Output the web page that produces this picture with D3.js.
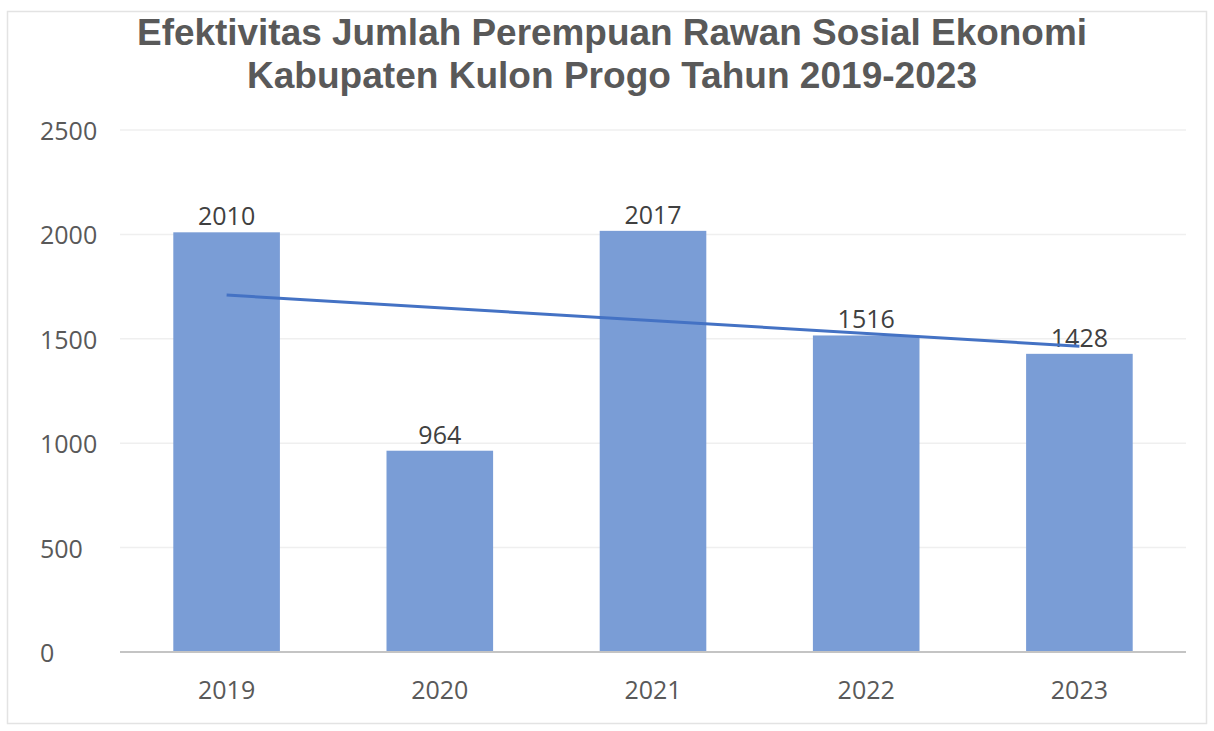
<!DOCTYPE html>
<html>
<head>
<meta charset="utf-8">
<script src="https://cdn.jsdelivr.net/npm/d3@7"></script>
<style>
  html, body { margin: 0; padding: 0; background: #fff; }
  svg { display: block; }
</style>
</head>
<body>
<svg id="chart" width="1214" height="731"></svg>
<script>
const categories = ["2019", "2020", "2021", "2022", "2023"];
const values = [2010, 964, 2017, 1516, 1428];
const yTicks = [0, 500, 1000, 1500, 2000, 2500];
const titleLines = ["Efektivitas Jumlah Perempuan Rawan Sosial Ekonomi", "Kabupaten Kulon Progo Tahun 2019-2023"];

const svg = d3.select("#chart");
const margin = { left: 120, right: 1186, top: 130, bottom: 652 };
const FONT = "'Open Sans', 'Noto Sans', sans-serif";
const FS = 25;

// frame
svg.append("rect").attr("x", 7.5).attr("y", 11.5).attr("width", 1199).attr("height", 712)
  .attr("fill", "#fff").attr("stroke", "#e3e3e3").attr("stroke-width", 1.5);

const x = d3.scaleBand().domain(categories).range([margin.left, margin.right]).paddingInner(0.5).paddingOuter(0.25);
const y = d3.scaleLinear().domain([0, 2500]).range([margin.bottom, margin.top]);

// gridlines
svg.append("g").selectAll("line").data(yTicks.filter(d => d > 0)).join("line")
  .attr("x1", margin.left).attr("x2", margin.right)
  .attr("y1", d => y(d)).attr("y2", d => y(d))
  .attr("stroke", "#efefef").attr("stroke-width", 1.5);

// y tick labels (left-aligned, no axis line)
const yAxis = d3.axisLeft(y).tickValues(yTicks).tickSize(0).tickFormat(d3.format("d"));
const gy = svg.append("g").attr("transform", `translate(40,0)`).call(yAxis);
gy.select(".domain").remove();
gy.selectAll("text").attr("text-anchor", "start").attr("x", 0).attr("dy", "0.38em")
  .attr("font-family", FONT).attr("font-size", FS).attr("fill", "#595959");

// bars
svg.append("g").selectAll("rect").data(values).join("rect")
  .attr("x", (d, i) => x(categories[i]))
  .attr("width", x.bandwidth())
  .attr("y", d => y(d))
  .attr("height", d => y(0) - y(d))
  .attr("fill", "#7a9dd6");

// x axis
const xAxis = d3.axisBottom(x).tickSize(0).tickPadding(0);
const gx = svg.append("g").attr("transform", `translate(0,${margin.bottom})`).call(xAxis);
gx.select(".domain").attr("stroke", "#c4c4c4").attr("stroke-width", 2)
  .attr("d", `M${margin.left},0H${margin.right}`);
gx.selectAll("text").attr("y", 47).attr("dy", 0)
  .attr("font-family", FONT).attr("font-size", FS).attr("fill", "#595959");

// data labels
svg.append("g").selectAll("text").data(values).join("text")
  .attr("x", (d, i) => x(categories[i]) + x.bandwidth() / 2)
  .attr("y", d => y(d) - 7)
  .attr("text-anchor", "middle")
  .attr("font-family", FONT).attr("font-size", FS).attr("fill", "#404040")
  .text(d => d);

// linear trendline (least squares over category index)
const n = values.length;
const xs = values.map((d, i) => i + 1);
const mx = d3.mean(xs), my = d3.mean(values);
const slope = d3.sum(xs.map((xi, i) => (xi - mx) * (values[i] - my))) / d3.sum(xs.map(xi => (xi - mx) ** 2));
const intercept = my - slope * mx;
const trend = xs.map((xi, i) => ({ cat: categories[i], v: intercept + slope * xi }));
const line = d3.line().x(d => x(d.cat) + x.bandwidth() / 2).y(d => y(d.v));
svg.append("path").datum([trend[0], trend[n - 1]]).attr("d", line)
  .attr("fill", "none").attr("stroke", "#4472c4").attr("stroke-width", 3);

// title
const tWidths = [950, 730];
svg.append("g").selectAll("text").data(titleLines).join("text")
  .attr("x", 612).attr("y", (d, i) => 45 + i * 43)
  .attr("text-anchor", "middle")
  .attr("font-family", "'Liberation Sans', Arial, sans-serif").attr("font-weight", "bold")
  .attr("font-size", 36).attr("fill", "#595959")
  .attr("textLength", (d, i) => tWidths[i]).attr("lengthAdjust", "spacingAndGlyphs")
  .text(d => d);
</script>
</body>
</html>
